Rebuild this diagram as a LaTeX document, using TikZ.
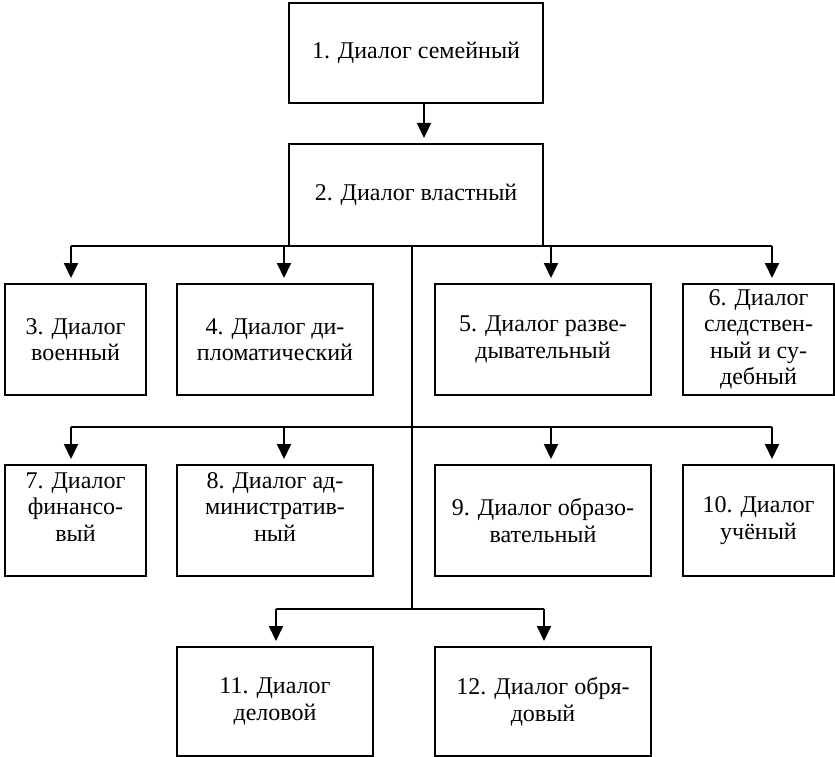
\documentclass[tikz,border=0pt]{standalone}
\usepackage{fontspec}
\setmainfont{Liberation Serif}
\usetikzlibrary{arrows.meta}

\begin{document}
\begin{tikzpicture}[x=1pt, y=-1pt, line width=2pt, >={Triangle[length=15pt,width=14pt]},
  box/.style={draw, line width=2pt, align=center, inner sep=0pt, font=\fontsize{24}{26.5}\selectfont},
  wide/.style={minimum width=#1, minimum height=111},
  raised/.style={text depth=27pt}]
\fill[white] (0,0) rectangle (835,757);
\useasboundingbox (0,0) rectangle (835,757);
\node[box, minimum width=254, minimum height=100] (d1) at (416,53) {1. Диалог семейный};
\node[box, minimum width=254, minimum height=102] (d2) at (416,195) {2. Диалог властный};
% first row
\node[box, wide=141] (d3) at (75.5,339.5) {3. Диалог\\военный};
\node[box, wide=196] (d4) at (275,339.5) {4. Диалог ди-\\пломатический};
\node[box, wide=216] (d5) at (543,339.5) {5. Диалог разве-\\дывательный};
\node[box, wide=151] (d6) at (758.5,339.5) {6. Диалог\\следствен-\\ный и су-\\дебный};
% second row
\node[box, wide=141, raised] (d7) at (75.5,520.5) {7. Диалог\\финансо-\\вый};
\node[box, wide=196, raised] (d8) at (275,520.5) {8. Диалог ад-\\министратив-\\ный};
\node[box, wide=216] (d9) at (543,520.5) {9. Диалог образо-\\вательный};
\node[box, wide=151] (d10) at (758.5,520.5) {10. Диалог\\учёный};
% third row
\node[box, wide=196, minimum height=109] (d11) at (275,701.5) {11. Диалог\\деловой};
\node[box, wide=216, minimum height=109] (d12) at (543,701.5) {12. Диалог обря-\\довый};
% buses
\coordinate (j0) at (424,103);
\coordinate (t1) at (412,246);
\coordinate (t2) at (412,427);
\coordinate (t3) at (412,609);
\coordinate (j3) at (71,246);
\coordinate (j4) at (284,246);
\coordinate (j5) at (551,246);
\coordinate (j6) at (772,246);
\coordinate (j7) at (71,427);
\coordinate (j8) at (284,427);
\coordinate (j9) at (551,427);
\coordinate (j10) at (772,427);
\coordinate (j11) at (276,609);
\coordinate (j12) at (544,609);
\draw[->, shorten >=5pt] (j0) -- (j0 |- d2.north);
\draw (j3) -- (j6);
\draw (j7) -- (j10);
\draw (j11) -- (j12);
\draw (t1) -- (t3);
\draw[->, shorten >=5pt] (j3) -- (j3 |- d3.north);
\draw[->, shorten >=5pt] (j4) -- (j4 |- d4.north);
\draw[->, shorten >=5pt] (j5) -- (j5 |- d5.north);
\draw[->, shorten >=5pt] (j6) -- (j6 |- d6.north);
\draw[->, shorten >=5pt] (j7) -- (j7 |- d7.north);
\draw[->, shorten >=5pt] (j8) -- (j8 |- d8.north);
\draw[->, shorten >=5pt] (j9) -- (j9 |- d9.north);
\draw[->, shorten >=5pt] (j10) -- (j10 |- d10.north);
\draw[->, shorten >=5pt] (j11) -- (j11 |- d11.north);
\draw[->, shorten >=5pt] (j12) -- (j12 |- d12.north);
\end{tikzpicture}
\end{document}
